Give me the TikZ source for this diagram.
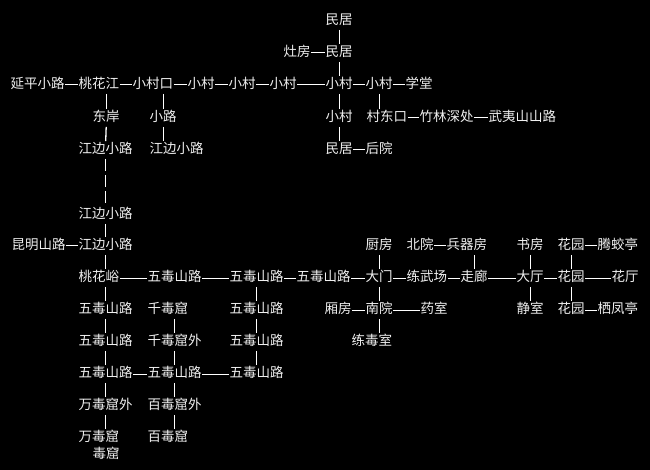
\documentclass[tikz,border=0pt]{standalone}
\usepackage{fontspec}
\newfontfamily\cjk{Noto Sans CJK SC}
\usetikzlibrary{positioning}
\tikzset{
  x = 1pt, y = -1pt,
  room/.style = {anchor = west, yshift = -3pt, inner xsep = 0.5pt, inner ysep = 3.6pt,
    text = white!94!black, font = \cjk\fontsize{13.5}{16}\selectfont,
    text height = 0.88em, text depth = 0.12em},
  path/.style = {draw = white, line width = 1pt},
  exit/.style = {draw = white, line width = 1.3pt},
  longexit/.style = {exit, dash pattern = on 12.5pt off 3.5pt},
}

\begin{document}
\begin{tikzpicture}
  \fill [black] (0,0) rectangle (650,470);
  \useasboundingbox (0,0) rectangle (650,470);
  % nodes
  \node [room] (mj1) at (325,18) {民居};
  \node [room] (zf) at (283,50) {灶房};
  \node [room] (mj2) at (325,50) {民居};
  \node [room] (ypxl) at (10,82) {延平小路};
  \node [room] (thj) at (78,82) {桃花江};
  \node [room] (xck) at (132,82) {小村口};
  \node [room] (xc1) at (187,82) {小村};
  \node [room] (xc2) at (228,82) {小村};
  \node [room] (xc3) at (269,82) {小村};
  \node [room] (xc4) at (325,82) {小村};
  \node [room] (xc5) at (365,82) {小村};
  \node [room] (xt) at (405,82) {学堂};
  \node [room] (da) at (92,115) {东岸};
  \node [room] (xl) at (149,115) {小路};
  \node [room] (xc6) at (325,115) {小村};
  \node [room] (cdk) at (366,115) {村东口};
  \node [room] (zlsc) at (419,115) {竹林深处};
  \node [room] (wysl) at (488,115) {武夷山山路};
  \node [room] (jb1) at (78,147) {江边小路};
  \node [room] (jb2) at (149,147) {江边小路};
  \node [room] (mj3) at (325,147) {民居};
  \node [room] (hy) at (365,147) {后院};
  \node [room] (jb3) at (78,212) {江边小路};
  \node [room] (kmsl) at (11,243) {昆明山路};
  \node [room] (jb4) at (78,243) {江边小路};
  \node [room] (cf) at (365,243) {厨房};
  \node [room] (by) at (406,243) {北院};
  \node [room] (bqf) at (446,243) {兵器房};
  \node [room] (sf) at (516,243) {书房};
  \node [room] (hy1) at (557,243) {花园};
  \node [room] (tjt) at (597,243) {腾蛟亭};
  \node [room] (thy) at (78,275) {桃花峪};
  \node [room] (wd1) at (147,275) {五毒山路};
  \node [room] (wd2) at (229,275) {五毒山路};
  \node [room] (wd3) at (296,275) {五毒山路};
  \node [room] (dm) at (365,275) {大门};
  \node [room] (lwc) at (406,275) {练武场};
  \node [room] (zl) at (460,275) {走廊};
  \node [room] (dt) at (516,275) {大厅};
  \node [room] (hy2) at (557,275) {花园};
  \node [room] (ht) at (611,275) {花厅};
  \node [room] (wd4) at (78,307) {五毒山路};
  \node [room] (qdk) at (147,307) {千毒窟};
  \node [room] (wd5) at (229,307) {五毒山路};
  \node [room] (xf) at (324,307) {厢房};
  \node [room] (ny) at (365,307) {南院};
  \node [room] (ys) at (420,307) {药室};
  \node [room] (js) at (516,307) {静室};
  \node [room] (hy3) at (557,307) {花园};
  \node [room] (qft) at (597,307) {栖凤亭};
  \node [room] (wd6) at (78,339) {五毒山路};
  \node [room] (qdkw) at (147,339) {千毒窟外};
  \node [room] (wd7) at (229,339) {五毒山路};
  \node [room] (lds) at (351,339) {练毒室};
  \node [room] (wd8) at (78,371) {五毒山路};
  \node [room] (wd9) at (147,371) {五毒山路};
  \node [room] (wd10) at (229,371) {五毒山路};
  \node [room] (wdkw) at (78,403) {万毒窟外};
  \node [room] (bdkw) at (147,403) {百毒窟外};
  \node [room] (wdk) at (78,435) {万毒窟};
  \node [room] (bdk) at (147,435) {百毒窟};
  \node [room] (dk) at (92,452) {毒窟};
  % edges, east-west
  \draw [path] (zf) -- (mj2);
  \draw [path] (ypxl) -- (thj);
  \draw [path] (thj) -- (xck);
  \draw [path] (xck) -- (xc1);
  \draw [path] (xc1) -- (xc2);
  \draw [path] (xc2) -- (xc3);
  \draw [path] (xc3) -- (xc4);
  \draw [path] (xc4) -- (xc5);
  \draw [path] (xc5) -- (xt);
  \draw [path] (cdk) -- (zlsc);
  \draw [path] (zlsc) -- (wysl);
  \draw [path] (mj3) -- (hy);
  \draw [path] (kmsl) -- (jb4);
  \draw [path] (by) -- (bqf);
  \draw [path] (hy1) -- (tjt);
  \draw [path] (thy) -- (wd1);
  \draw [path] (wd1) -- (wd2);
  \draw [path] (wd2) -- (wd3);
  \draw [path] (wd3) -- (dm);
  \draw [path] (dm) -- (lwc);
  \draw [path] (lwc) -- (zl);
  \draw [path] (zl) -- (dt);
  \draw [path] (dt) -- (hy2);
  \draw [path] (hy2) -- (ht);
  \draw [path] (xf) -- (ny);
  \draw [path] (ny) -- (ys);
  \draw [path] (hy3) -- (qft);
  \draw [path] (wd8) -- (wd9);
  \draw [path] (wd9) -- (wd10);
  % edges, north-south
  \draw [exit] (mj1.south) -- (mj2.north);
  \draw [exit] (mj2.south) -- (xc4.north);
  \draw [exit] (xc4.south) -- (xc6.north);
  \draw [exit] (xc6.south) -- (mj3.north);
  \draw [exit] (xc5.south) -- (xc5.south |- cdk.north);
  \draw [exit] (thj.south -| da) -- (da.north);
  \draw [exit] (da.south) -- (jb1.north);
  \draw [exit] (xck.south -| xl) -- (xl.north);
  \draw [exit] (xl.south) -- (xl.south |- jb2.north);
  \draw [longexit] (jb1.south) -- (jb3.north);
  \draw [exit] (jb3.south) -- (jb4.north);
  \draw [exit] (jb4.south) -- (jb4.south |- thy.north);
  \draw [exit] (cf.south) -- (dm.north);
  \draw [exit] (bqf.south -| zl) -- (zl.north);
  \draw [exit] (sf.south) -- (dt.north);
  \draw [exit] (hy1.south) -- (hy2.north);
  \draw [exit] (thy.south -| wd4) -- (wd4.north);
  \draw [exit] (wd2.south) -- (wd5.north);
  \draw [exit] (dm.south) -- (ny.north);
  \draw [exit] (dt.south) -- (js.north);
  \draw [exit] (hy2.south) -- (hy3.north);
  \draw [exit] (ny.south) -- (ny.south |- lds.north);
  \draw [exit] (wd4.south) -- (wd6.north);
  \draw [exit] (qdk.south -| qdkw) -- (qdkw.north);
  \draw [exit] (wd5.south) -- (wd7.north);
  \draw [exit] (wd6.south) -- (wd8.north);
  \draw [exit] (qdkw.south) -- (wd9.north);
  \draw [exit] (wd7.south) -- (wd10.north);
  \draw [exit] (wd8.south) -- (wdkw.north);
  \draw [exit] (wd9.south) -- (bdkw.north);
  \draw [exit] (wdkw.south) -- (wdkw.south |- wdk.north);
  \draw [exit] (bdkw.south) -- (bdkw.south |- bdk.north);
\end{tikzpicture}
\end{document}
